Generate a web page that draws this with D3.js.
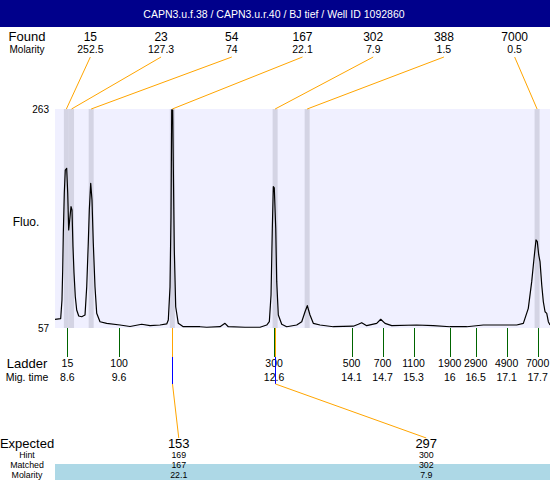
<!DOCTYPE html>
<html><head><meta charset="utf-8">
<script src="https://cdn.jsdelivr.net/npm/d3@7"></script>
<style>
html,body{margin:0;padding:0;background:#fff;}
svg{display:block;font-family:"Liberation Sans",Arial,Helvetica,sans-serif;}
</style></head><body>
<svg id="chart" width="550" height="480"></svg>
<script>
const title = "CAPN3.u.f.38 / CAPN3.u.r.40 / BJ tief / Well ID 1092860";
const foundSizes = [15, 23, 54, 167, 302, 388, 7000];
const foundMolarity = [252.5, 127.3, 74, 22.1, 7.9, 1.5, 0.5];
const foundTimes = [8.58, 8.68, 9.06, 10.63, 12.62, 13.24, 17.69];
const ladderSizes = [15, 100, 300, 500, 700, 1100, 1900, 2900, 4900, 7000];
const ladderTimes = [8.6, 9.6, 12.6, 14.1, 14.7, 15.3, 16, 16.5, 17.1, 17.7];
const expectedSizes = [153, 297];
const hintSizes = [169, 300];
const matchedSizes = [167, 302];
const matchedMolarity = [22.1, 7.9];
const matchedTimes = [10.63, 12.62];
const yTicks = [57, 263];
const traceTime = [8.360,8.470,8.495,8.509,8.521,8.540,8.559,8.586,8.606,8.625,
8.644,8.670,8.689,8.708,8.728,8.753,8.780,8.819,8.877,8.941,
8.974,9.004,9.024,9.051,9.076,9.101,9.134,9.167,9.231,9.361,
9.618,9.812,10.038,10.199,10.392,10.522,10.553,10.586,10.605,10.619,
10.638,10.650,10.669,10.696,10.746,10.843,11.166,11.296,11.553,11.650,
11.714,12.037,12.328,12.457,12.508,12.541,12.566,12.585,12.604,12.632,
12.651,12.682,12.748,12.844,13.038,13.135,13.199,13.243,13.295,13.359,
13.489,13.746,14.133,14.230,14.296,14.393,14.586,14.664,14.747,14.877,
15.360,15.682,16.005,16.328,16.649,16.973,17.296,17.424,17.520,17.586,
17.631,17.669,17.694,17.722,17.747,17.780,17.811,17.844,17.877,17.908,
17.940];
const traceFluo = [65.2,65.9,83.3,111.6,146.4,184.0,205.6,207.2,184.0,149.2,
158.6,171.1,168.0,133.5,108.7,86.4,73.9,68.3,67.6,69.2,
95.8,137.0,168.0,193.1,177.4,137.0,95.8,70.8,62.9,61.4,
59.8,58.4,60.5,59.2,59.8,60.8,64.5,95.8,161.7,262.1,
262.1,208.7,130.4,77.0,61.4,58.2,58.2,57.7,58.2,61.4,
58.2,57.7,57.7,59.8,62.9,88.0,150.8,189.9,188.7,150.8,
100.6,69.2,60.5,58.2,59.8,62.9,72.3,78.0,69.2,61.4,
59.8,58.2,58.7,60.5,62.0,59.2,61.4,65.2,61.4,59.2,
59.8,59.2,58.2,58.2,59.8,59.8,59.8,61.4,75.5,100.6,
122.6,139.8,138.2,125.7,119.4,97.4,81.7,72.3,70.8,62.9,
59.8];

const W = 550, H = 480;
const P = {left: 55, right: 550, top: 109, bottom: 328};
const svg = d3.select("#chart");
const x = d3.scaleLinear().domain([8.36, 17.94]).range([P.left, P.right]);
const y = d3.scaleLinear().domain([57, 263]).range([P.bottom, P.top]);
const fcol = d3.scaleBand().domain(d3.range(foundSizes.length)).range([P.left, P.right]);
const ecol = d3.scaleBand().domain(d3.range(expectedSizes.length)).range([P.left, P.right]);
const fx = i => fcol(i) + fcol.bandwidth() / 2;
const ex = i => ecol(i) + ecol.bandwidth() / 2;
const ORANGE = "#FFA500", GREEN = "#006400", BLUE = "#0000FF";
const LX = 27;

function label(t, xx, yy, size, anchor) {
  return svg.append("text").attr("x", xx).attr("y", yy).attr("font-size", size)
    .attr("text-anchor", anchor || "middle").attr("fill", "#000").text(t);
}

// header
svg.append("rect").attr("x", 0).attr("y", 0).attr("width", W).attr("height", 27).attr("fill", "#00008B");
svg.append("text").attr("x", 274).attr("y", 18).attr("text-anchor", "middle")
  .attr("fill", "#fff").attr("font-size", 10.5).text(title);

// found rows
label("Found", LX, 41, 13);
label("Molarity", LX, 53, 10);
foundSizes.forEach((s, i) => label(String(s), fx(i), 41, 12));
foundMolarity.forEach((m, i) => label(String(m), fx(i), 53, 10.5));

// plot background
svg.append("rect").attr("x", P.left).attr("y", P.top).attr("width", P.right - P.left)
  .attr("height", P.bottom - P.top).attr("fill", "#F0F0FF");

// peak bands
svg.append("g").selectAll("rect").data(foundTimes).join("rect")
  .attr("x", d => x(d) - 2.5).attr("y", P.top).attr("width", 5)
  .attr("height", P.bottom - P.top).attr("fill", "#D4D4E4");

// clip
svg.append("clipPath").attr("id", "clip").append("rect")
  .attr("x", P.left).attr("y", P.top - 1).attr("width", P.right - P.left).attr("height", P.bottom - P.top + 1);

// trace
const pts = traceTime.map((t, i) => [t, traceFluo[i]]);
svg.append("path").datum(pts).attr("clip-path", "url(#clip)")
  .attr("d", d3.line().x(d => x(d[0])).y(d => y(d[1])))
  .attr("fill", "none").attr("stroke", "#000").attr("stroke-width", 1.2)
  .attr("stroke-linejoin", "round");

// y labels
label("Fluo.", 26, 225.5, 12);
yTicks.forEach(v => label(String(v), 49, y(v) + 4, 10, "end"));

// found connectors
svg.append("g").selectAll("line").data(foundTimes).join("line")
  .attr("x1", (d, i) => fx(i)).attr("y1", 57).attr("x2", d => x(d)).attr("y2", P.top)
  .attr("stroke", ORANGE).attr("stroke-width", 1);

// matched upper ticks (under ladder ticks)
svg.append("g").selectAll("line").data(matchedTimes).join("line")
  .attr("x1", d => Math.round(x(d)) + 0.5).attr("x2", d => Math.round(x(d)) + 0.5)
  .attr("y1", P.bottom).attr("y2", 342).attr("stroke", ORANGE).attr("stroke-width", 1);

// ladder ticks
svg.append("g").selectAll("line").data(ladderTimes).join("line")
  .attr("x1", d => Math.round(x(d)) + 0.5).attr("x2", d => Math.round(x(d)) + 0.5)
  .attr("y1", P.bottom).attr("y2", 357).attr("stroke", GREEN).attr("stroke-width", 1);
label("Ladder", LX, 368, 13);
label("Mig. time", LX, 381, 10.5);
ladderSizes.forEach((s, i) => label(String(s), x(ladderTimes[i]), 367, 10.5));
ladderTimes.forEach(t => label(String(t), x(t), 381, 10.5));

// matched connectors
const mg = svg.append("g");
matchedTimes.forEach((t, i) => {
  const xx = Math.round(x(t)) + 0.5;
  mg.append("line").attr("x1", xx).attr("x2", xx).attr("y1", 342).attr("y2", 357)
    .attr("stroke", ORANGE).attr("stroke-width", 1);
  mg.append("line").attr("x1", xx).attr("x2", xx).attr("y1", 357).attr("y2", 384)
    .attr("stroke", BLUE).attr("stroke-width", 1);
  mg.append("line").attr("x1", xx).attr("y1", 384).attr("x2", ex(i)).attr("y2", 438)
    .attr("stroke", ORANGE).attr("stroke-width", 1);
});

// expected section
svg.append("rect").attr("x", P.left).attr("y", 464).attr("width", P.right - P.left)
  .attr("height", H - 464).attr("fill", "#ADD8E6");
label("Expected", LX, 447.5, 13);
label("Hint", LX, 458, 8.8);
label("Matched", LX, 468, 8.8);
label("Molarity", LX, 478, 8.8);
expectedSizes.forEach((s, i) => label(String(s), ex(i), 447.5, 13));
hintSizes.forEach((s, i) => label(String(s), ex(i), 458, 8.8));
matchedSizes.forEach((s, i) => label(String(s), ex(i), 468, 8.8));
matchedMolarity.forEach((s, i) => label(String(s), ex(i), 478, 8.8));
</script>
</body></html>
